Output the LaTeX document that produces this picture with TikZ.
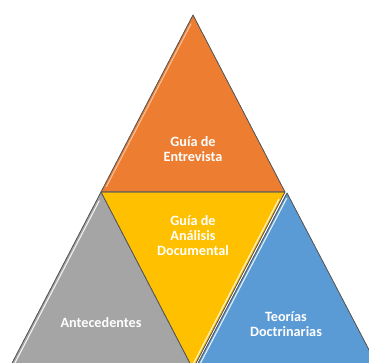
\documentclass[tikz,border=0pt]{standalone}
\usepackage{fontspec}
\setmainfont{Carlito}
\usetikzlibrary{calc}
\definecolor{orangeA}{HTML}{ED7D31}
\definecolor{grayA}{HTML}{A5A5A5}
\definecolor{goldA}{HTML}{FFC000}
\definecolor{blueA}{HTML}{5B9BD5}
\begin{document}
\begin{tikzpicture}[x=1pt,y=1pt,
  piece/.style={draw=black!65,line width=0.6pt,line join=round},
  shine/.style={white,line width=1.1pt,opacity=0.85,line cap=round},
  lbl/.style={text=white,align=center,font=\fontsize{14.2}{15}\selectfont\bfseries}]
\useasboundingbox (0,0) rectangle (369,363);
\clip (0,0) rectangle (369,363);
\coordinate (T) at (193,348);
\coordinate (L) at (101,171);
\coordinate (R) at (285,171);
\coordinate (B) at (193,-6);
\coordinate (BL) at (9,-6);
\coordinate (BR) at (379,-6);
\coordinate (RB) at (287,170);
\coordinate (BB) at (195,-6);
% pieces
\fill[piece,fill=grayA](L)--(BL)--(B)--cycle;
\fill[piece,fill=blueA](RB)--(BB)--(BR)--cycle;
\fill[piece,fill=orangeA](T)--(L)--(R)--cycle;
\fill[piece,fill=goldA](L)--(R)--(B)--cycle;
\draw[piece](T)--(L)--(R)--cycle (L)--(BL) (L)--(B)--(R) (RB)--(BB) (RB)--(BR);
% highlights
\draw[shine,white!60!orangeA]($(T)!0.05!(L)+(2.6,0)$)--($(L)!0.03!(T)+(2.6,0)$);
\draw[shine]($(L)!0.05!(BL)+(2.8,0)$)--($(BL)+(2.8,0)$);
\draw[shine]($(R)!0.04!(B)+(-2.4,0)$)--($(B)!0.02!(R)+(-2.4,0)$);
\draw[shine]($(RB)!0.03!(BB)+(2.4,0)$)--($(BB)+(2.4,0)$);
% labels
\node[lbl](ent) at (193,214){Guía de\\Entrevista};
\node[lbl](doc) at (193,127){Guía de\\Análisis\\Documental};
\node[lbl](ant) at (101,40){Antecedentes};
\node[lbl](teo) at (286,39){Teorías\\Doctrinarias};
\end{tikzpicture}
\end{document}
